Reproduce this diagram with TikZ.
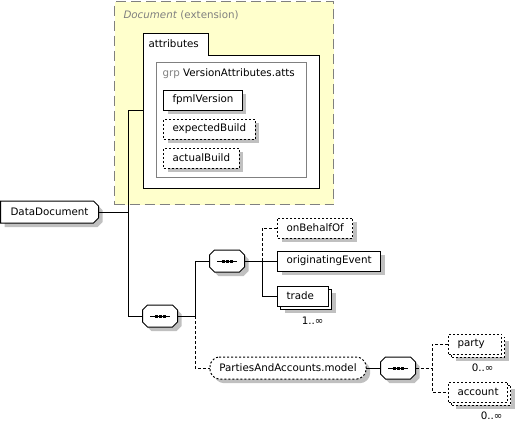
\documentclass[tikz,border=0pt]{standalone}
\usepackage{fontspec}
\setmainfont{DejaVu Sans}
\usetikzlibrary{shadows, positioning, calc, backgrounds}
\definecolor{xsdyellow}{RGB}{255,255,204}
\definecolor{xsdshadow}{RGB}{192,192,192}
\definecolor{xsdgray}{RGB}{128,128,128}

% outline with all four corners cut
\newcommand{\chamferall}[2]{([xshift=#2]#1.north west) -- ([xshift=-#2]#1.north east) -- ([yshift=-#2]#1.north east) -- ([yshift=#2]#1.south east) -- ([xshift=-#2]#1.south east) -- ([xshift=#2]#1.south west) -- ([yshift=#2]#1.south west) -- ([yshift=-#2]#1.north west) -- cycle}
% outline with the right corners cut
\newcommand{\chamferright}[2]{(#1.north west) -- ([xshift=-#2]#1.north east) -- ([yshift=-#2]#1.north east) -- ([yshift=#2]#1.south east) -- ([xshift=-#2]#1.south east) -- (#1.south west) -- cycle}

\begin{document}
\begin{tikzpicture}[
    x=1pt, y=-1pt, % one unit per pixel, y grows downwards
    font=\fontsize{10.3pt}{12pt}\selectfont,
    line width=1pt,
    xsdshade/.style={drop shadow={shadow xshift=#1, shadow yshift=-#1, fill=xsdshadow, draw=none, opacity=1}},
    xsdshade/.default=4pt,
    elembase/.style={rectangle, draw, fill=white, minimum height=20pt, inner xsep=9pt, inner ysep=0pt},
    elem/.style={elembase, xsdshade},
    elemmulti/.style={elembase, xsdshade=7pt, copy shadow={shadow xshift=3pt, shadow yshift=-3pt, draw=black, fill=white, #1}},
    elemmulti/.default={solid},
    optional/.style={dash pattern=on 2pt off 2pt},
    rootelem/.style={rectangle, minimum width=97pt, minimum height=21pt, inner sep=0pt},
    groupref/.style={rectangle, minimum width=155pt, minimum height=21pt, inner sep=0pt},
    seq/.style={rectangle, minimum width=34pt, minimum height=21pt, inner sep=0pt},
    outline/.style={draw=black, fill=white, line width=1pt},
    shade/.style={fill=xsdshadow, transform canvas={xshift=4pt, yshift=-4pt}},
    extension/.style={draw=xsdgray, fill=xsdyellow, line width=1.3pt, dash pattern=on 10pt off 5pt},
    conn/.style={draw, line width=1pt},
    optconn/.style={conn, dash pattern=on 3pt off 2pt}
]
    \useasboundingbox (0,0) rectangle (516,421);

    % extension frame of Document
    \node[extension, anchor=north west, minimum width=219pt, minimum height=203pt] (docext) at (114,1) {};
    \node[anchor=base west, text=xsdgray, inner sep=0pt] (docextlabel) at (123,18) {\itshape Document\/ \upshape(extension)};

    % attributes box with its tab
    \node[anchor=north west, minimum width=175pt, minimum height=154pt, inner sep=0pt] (attributes) at (143,33) {};
    \node[anchor=north west, minimum width=64pt, minimum height=21pt, inner sep=0pt] (atttab) at (attributes.north west) {};
    \draw[fill=white] (attributes.north west) -- (atttab.north east) -- (atttab.south east) -- (atttab.south east -| attributes.east) -- (attributes.south east) -- (attributes.south west) -- cycle;
    \node[anchor=west, inner sep=0pt] (atttitle) at ([xshift=5pt]atttab.west) {attributes};

    % attribute group
    \node[draw=xsdgray, fill=white, anchor=north west, minimum width=150pt, minimum height=115pt, inner sep=0pt] (grp) at (156,62) {};
    \node[anchor=base west, inner sep=0pt] (grptitle) at (162,76) {\textcolor{xsdgray}{grp} VersionAttributes.atts};
    \node[elem, anchor=west] (fpml) at (163,100) {fpmlVersion};
    \node[elem, optional, below right=8pt and 0pt of fpml.south west] (expbuild) {expectedBuild};
    \node[elem, optional, below right=8pt and 0pt of expbuild.south west] (actbuild) {actualBuild};

    % root element and content model
    \node[rootelem, anchor=west] (datadoc) at (0.5,212) {DataDocument};
    \node[seq] (seqmain) at (160,316) {};
    \node[seq] (seqtrade) at (227,261) {};
    \node[elem, optional, anchor=west] (onbehalf) at (277,228) {onBehalfOf};
    \node[elem, anchor=west] (origevent) at (277,261) {originatingEvent};
    \node[elemmulti, anchor=west, text width=33pt] (trade) at (277,296) {trade};
    \node[anchor=base east, inner sep=0pt] (trademult) at ($(trade.south east)+(-5,18)$) {1..∞};

    \node[groupref, anchor=west] (model) at (210,368) {PartiesAndAccounts.model};
    \node[seq] (seqmodel) at (398,368) {};
    \node[elemmulti=optional, optional, anchor=west, text width=35pt] (party) at (448,344) {party};
    \node[anchor=base east, inner sep=0pt] (partymult) at ($(party.south east)+(-8,17)$) {0..∞};
    \node[elemmulti=optional, optional, below right=27pt and 0pt of party.south west] (account) {account};
    \node[anchor=base east, inner sep=0pt] (accountmult) at ($(account.south east)+(-5,17)$) {0..∞};

    % cut-corner outlines behind the text
    \begin{scope}[on background layer]
        \fill[shade] \chamferright{datadoc}{5pt};
        \path[outline] \chamferright{datadoc}{5pt};
        \fill[shade, rounded corners=3pt] \chamferall{model}{6pt};
        \path[outline, optional, rounded corners=3pt] \chamferall{model}{6pt};
        \foreach \s in {seqmain, seqtrade, seqmodel} {
            \fill[shade] \chamferall{\s}{5pt};
            \path[outline] \chamferall{\s}{5pt};
        }
    \end{scope}

    % sequence icons
    \foreach \s in {seqmain, seqtrade, seqmodel} {
        \draw ([xshift=-10pt]\s.center) -- ([xshift=10pt]\s.center);
        \foreach \dx in {-4,0,4}
            \fill ([xshift=\dx pt]\s.center) +(-1.5,-1.5) rectangle +(1.5,1.5);
    }

    % branch points
    \coordinate (trunk) at (128,0);
    \coordinate (seqsplit) at (195,0);
    \coordinate (tradesplit) at (262,0);
    \coordinate (modelsplit) at (432,0);

    % connectors
    \draw[conn] (datadoc.east) -- (datadoc.east -| trunk);
    \draw[conn] (attributes.west) -- (attributes.west -| trunk) -- (seqmain.west -| trunk) -- (seqmain.west);
    \draw[conn] (seqmain.east) -- (seqmain.east -| seqsplit) -- (seqtrade.west -| seqsplit) -- (seqtrade.west);
    \draw[optconn] (seqmain.east -| seqsplit) -- (model.west -| seqsplit) -- (model.west);
    \draw[conn] (seqtrade.east) -- (origevent.west);
    \draw[conn] (seqtrade.east -| tradesplit) -- (trade.west -| tradesplit) -- (trade.west);
    \draw[optconn] (seqtrade.east -| tradesplit) -- (onbehalf.west -| tradesplit) -- (onbehalf.west);
    \draw[conn] (model.east) -- (seqmodel.west);
    \draw[optconn] (seqmodel.east) -- (seqmodel.east -| modelsplit);
    \draw[optconn] (party.west) -- (party.west -| modelsplit) -- (account.west -| modelsplit) -- (account.west);
\end{tikzpicture}
\end{document}
